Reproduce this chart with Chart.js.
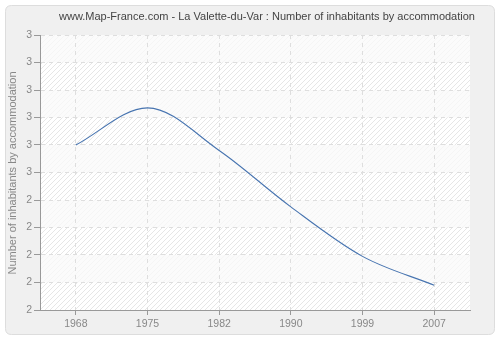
<!DOCTYPE html>
<html>
<head>
<meta charset="utf-8">
<script src="https://cdn.jsdelivr.net/npm/chart.js@4/dist/chart.umd.min.js"></script>
<style>
  html, body { margin: 0; padding: 0; background: #fff; }
  #wrap { width: 500px; height: 340px; }
</style>
</head>
<body>
<div id="wrap"><canvas id="inhabChart" width="500" height="340"></canvas></div>
<script>
var years = ["1968", "1975", "1982", "1990", "1999", "2007"];
var inhabitants = [2.60, 2.735, 2.58, 2.375, 2.195, 2.09];
var yMin = 2;
var yMax = 3;
var yStep = 0.1;

var titleText = "www.Map-France.com - La Valette-du-Var : Number of inhabitants by accommodation";
var yTitleText = "Number of inhabitants by accommodation";
var fontFamily = "'Liberation Sans', Arial, sans-serif";

function roundRect(ctx, x, y, w, h, r) {
  ctx.beginPath();
  ctx.moveTo(x + r, y);
  ctx.lineTo(x + w - r, y);
  ctx.quadraticCurveTo(x + w, y, x + w, y + r);
  ctx.lineTo(x + w, y + h - r);
  ctx.quadraticCurveTo(x + w, y + h, x + w - r, y + h);
  ctx.lineTo(x + r, y + h);
  ctx.quadraticCurveTo(x, y + h, x, y + h - r);
  ctx.lineTo(x, y + r);
  ctx.quadraticCurveTo(x, y, x + r, y);
  ctx.closePath();
}

function makeHatch(ctx) {
  var c = document.createElement("canvas");
  c.width = 5;
  c.height = 5;
  var p = c.getContext("2d");
  p.fillStyle = "#ffffff";
  p.fillRect(0, 0, 5, 5);
  p.strokeStyle = "#e6e6e6";
  p.lineWidth = 1;
  p.beginPath();
  p.moveTo(0, 5);
  p.lineTo(5, 0);
  p.moveTo(-1, 1);
  p.lineTo(1, -1);
  p.moveTo(4, 6);
  p.lineTo(6, 4);
  p.stroke();
  return ctx.createPattern(c, "repeat");
}

var backdrop = {
  id: "backdrop",
  beforeDraw: function (chart) {
    var ctx = chart.ctx;
    var area = chart.chartArea;
    ctx.save();
    ctx.fillStyle = "#ffffff";
    ctx.fillRect(0, 0, chart.width, chart.height);
    roundRect(ctx, 5.5, 5.5, 489, 329, 6);
    ctx.fillStyle = "#f0f0f0";
    ctx.fill();
    ctx.strokeStyle = "#dddddd";
    ctx.lineWidth = 1;
    ctx.stroke();

    ctx.fillStyle = makeHatch(ctx);
    ctx.fillRect(area.left, area.top, area.right - area.left, area.bottom - area.top);

    // lighter bands every other step
    var y = chart.scales.y;
    ctx.fillStyle = "rgba(250,250,250,0.75)";
    for (var v = yMin + yStep, i = 1; v < yMax; v += yStep, i++) {
      if (i % 2 === 1) {
        var top = y.getPixelForValue(v + yStep);
        var bot = y.getPixelForValue(v);
        ctx.fillRect(area.left, top, area.right - area.left, bot - top);
      }
    }

    ctx.fillStyle = "#444444";
    ctx.font = "11px " + fontFamily;
    ctx.textAlign = "center";
    ctx.textBaseline = "middle";
    ctx.fillText(titleText, 267, 17);

    ctx.fillStyle = "#888888";
    ctx.translate(13, 173);
    ctx.rotate(-Math.PI / 2);
    ctx.fillText(yTitleText, 0, 0);
    ctx.restore();
  }
};

var ctx = document.getElementById("inhabChart").getContext("2d");
var inhabChart = new Chart(ctx, {
  type: "line",
  data: {
    labels: years,
    datasets: [
      {
        label: "Inhabitants by accommodation",
        data: inhabitants,
        borderColor: "#4774b0",
        borderWidth: 1.1,
        pointRadius: 0,
        fill: false,
        cubicInterpolationMode: "monotone"
      }
    ]
  },
  options: {
    responsive: false,
    animation: false,
    layout: {
      padding: { left: 0, right: 30, top: 35, bottom: 0 }
    },
    plugins: {
      legend: { display: false },
      title: { display: false },
      tooltip: { enabled: false }
    },
    scales: {
      x: {
        offset: true,
        grid: {
          offset: false,
          color: "#dedede",
          tickColor: "#999999",
          tickLength: 5
        },
        border: { color: "#999999", dash: [4, 4] },
        ticks: {
          color: "#888888",
          font: { family: fontFamily, size: 10.5 },
          padding: 3,
          maxRotation: 0
        },
        afterFit: function (scale) { scale.height = 30; }
      },
      y: {
        min: yMin,
        max: yMax,
        grid: {
          color: "#dedede",
          tickColor: "#999999",
          tickLength: 6
        },
        border: { color: "#999999", dash: [4, 4] },
        ticks: {
          stepSize: yStep,
          color: "#888888",
          font: { family: fontFamily, size: 10.5 },
          padding: 2,
          callback: function (value) {
            return Math.round(Number(value.toFixed(1)));
          }
        },
        afterFit: function (scale) { scale.width = 40; }
      }
    }
  },
  plugins: [backdrop]
});
</script>
</body>
</html>
